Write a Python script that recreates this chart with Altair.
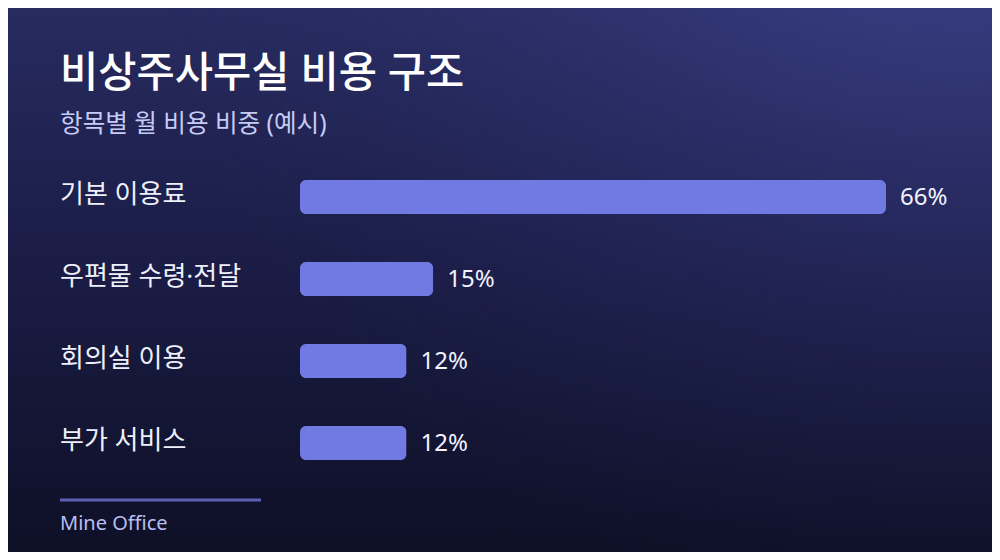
import altair as alt
import pandas as pd

categories = ["기본 이용료", "우편물 수령·전달", "회의실 이용", "부가 서비스"]
values = [66, 15, 12, 12]
value_labels = ["66%", "15%", "12%", "12%"]

title_text = "비상주사무실 비용 구조"
subtitle_text = "항목별 월 비용 비중 (예시)"
footer_text = "Mine Office"

df = pd.DataFrame({"cat": categories, "val": values, "label": value_labels})
one = pd.DataFrame({"a": [0]})

KR = "Noto Sans, Noto Sans CJK KR"
LAT = "Noto Sans"

W, H = 984, 544

xscale = alt.Scale(domain=[0, 66], range=[292, 878])
yscale = alt.Scale(domain=categories, range=[148, 476], paddingInner=0.585, paddingOuter=0.2925)

bg_lin = alt.LinearGradient(
    gradient="linear",
    stops=[
        alt.GradientStop(offset=0, color="#272b5f"),
        alt.GradientStop(offset=0.45, color="#1b1d47"),
        alt.GradientStop(offset=1, color="#0e1027"),
    ],
    x1=0, x2=0, y1=0, y2=1,
)
bg_rad = alt.RadialGradient(
    gradient="radial",
    stops=[
        alt.GradientStop(offset=0, color="rgba(72,80,165,0.75)"),
        alt.GradientStop(offset=0.45, color="rgba(62,68,145,0.35)"),
        alt.GradientStop(offset=1, color="rgba(40,44,100,0)"),
    ],
    x1=0.97, y1=0.0, r1=0, x2=0.97, y2=0.0, r2=0.85,
)

bg1 = alt.Chart(one).mark_rect(fill=bg_lin).encode(
    x=alt.value(0), x2=alt.value(W), y=alt.value(0), y2=alt.value(H)
)
bg2 = alt.Chart(one).mark_rect(fill=bg_rad).encode(
    x=alt.value(0), x2=alt.value(W), y=alt.value(0), y2=alt.value(H)
)

base = alt.Chart(df)

bars = base.mark_bar(cornerRadius=6, color="#7179e2").encode(
    x=alt.X("val:Q", scale=xscale, axis=None),
    y=alt.Y("cat:N", scale=yscale, sort=categories, axis=None),
)

vals = base.mark_text(
    align="left", baseline="alphabetic", dx=14, dy=8, font=LAT, fontSize=24, color="#f2f3ff"
).encode(
    x=alt.X("val:Q", scale=xscale, axis=None),
    y=alt.Y("cat:N", scale=yscale, sort=categories, axis=None),
    text="label:N",
)

cats = base.mark_text(
    align="left", baseline="alphabetic", dy=6, font=KR, fontSize=26, color="#eef0fb"
).encode(
    x=alt.value(52),
    y=alt.Y("cat:N", scale=yscale, sort=categories, axis=None),
    text="cat:N",
)

title = alt.Chart(one).mark_text(
    align="left", baseline="alphabetic", font=KR, fontSize=41.6, fontWeight=500, color="#ffffff"
).encode(x=alt.value(52), y=alt.value(79), text=alt.value(title_text))

subtitle = alt.Chart(one).mark_text(
    align="left", baseline="alphabetic", font=KR, fontSize=24.6, color="#c6ccf5"
).encode(x=alt.value(52), y=alt.value(124), text=alt.value(subtitle_text))

rule = alt.Chart(one).mark_rule(color="#5b60b6", strokeWidth=3).encode(
    x=alt.value(52), x2=alt.value(253), y=alt.value(492)
)

footer = alt.Chart(one).mark_text(
    align="left", baseline="alphabetic", font=LAT, fontSize=20, color="#b9bef0"
).encode(x=alt.value(52), y=alt.value(522), text=alt.value(footer_text))

chart = (
    alt.layer(bg1, bg2, bars, vals, cats, title, subtitle, rule, footer)
    .properties(width=W, height=H, autosize=alt.AutoSizeParams(type="none"), padding=0)
    .configure(background="#0e1027")
    .configure_view(stroke=None)
)

chart.save("out.html", embed_options={"renderer": "svg", "actions": False})
